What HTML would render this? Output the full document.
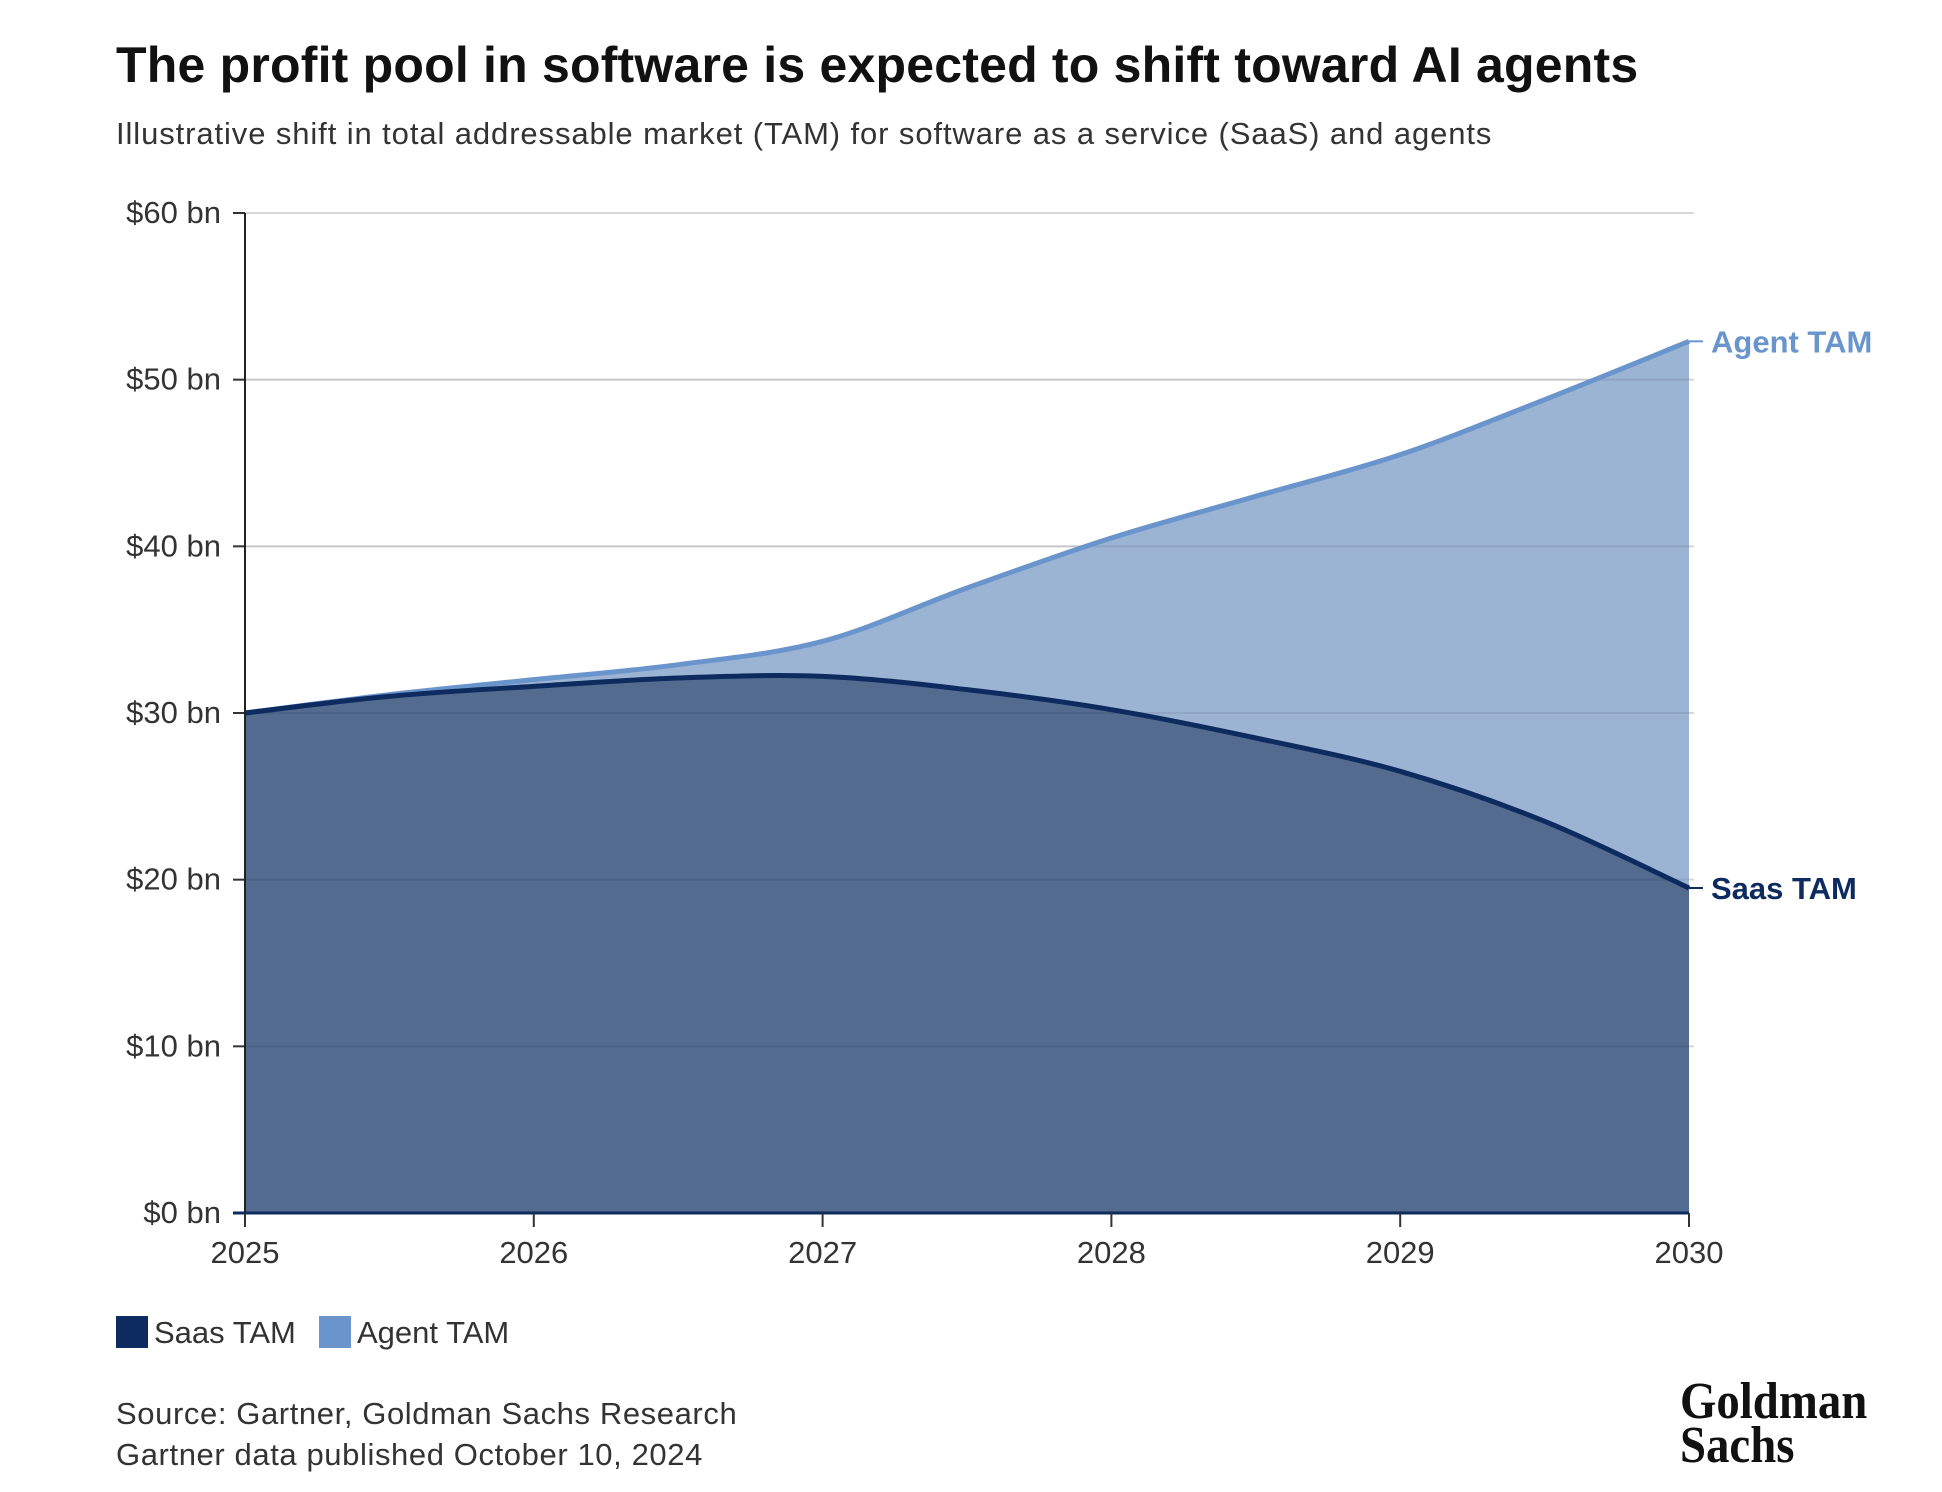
<!DOCTYPE html>
<html><head><meta charset="utf-8"><style>
body{margin:0;width:1942px;height:1492px;background:#fff;font-family:"Liberation Sans",sans-serif;overflow:hidden;position:relative}
.t{position:absolute;white-space:nowrap}
</style></head><body>
<div class="t" style="left:116px;top:36px;font-size:50px;font-weight:bold;color:#111;letter-spacing:0.2px">The profit pool in software is expected to shift toward AI agents</div>
<div class="t" style="left:116px;top:116px;font-size:31px;color:#333;letter-spacing:0.9px">Illustrative shift in total addressable market (TAM) for software as a service (SaaS) and agents</div>
<svg id="chart" width="1942" height="1492" style="position:absolute;left:0;top:0"></svg>
<div class="t" style="left:116px;top:1315px;font-size:31px;color:#333"><span style="display:inline-block;width:32px;height:32px;background:#0d2b5e;vertical-align:-5px;margin-right:6px"></span>Saas TAM</div>
<div class="t" style="left:319px;top:1315px;font-size:31px;color:#333"><span style="display:inline-block;width:32px;height:32px;background:#6a95cc;vertical-align:-5px;margin-right:6px"></span>Agent TAM</div>
<div class="t" style="left:116px;top:1393px;font-size:31px;color:#333;line-height:41px;letter-spacing:0.6px">Source: Gartner, Goldman Sachs Research<br>Gartner data published October 10, 2024</div>
<div class="t" style="left:1680px;top:1380px;font-family:'Liberation Serif',serif;font-weight:bold;font-size:52px;line-height:44px;color:#111;transform:scaleX(0.9);transform-origin:left">Goldman<br>Sachs</div>
<script>
const years=[2025,2025.5,2026,2026.5,2027,2027.5,2028,2028.5,2029,2029.5,2030];
const saas=[30,31,31.6,32.1,32.2,31.4,30.2,28.5,26.5,23.5,19.5];
const agent=[30,31.1,32.0,32.9,34.3,37.5,40.5,43.0,45.5,48.8,52.3];
const yTicks=[0,10,20,30,40,50,60];
const xTicks=[2025,2026,2027,2028,2029,2030];
const X0=245,X1=1689,Y0=1213,Y1=213;
const x=v=>X0+(v-2025)/5*(X1-X0);
const y=v=>Y0-v/60*(Y0-Y1);
const svg=document.getElementById('chart');
const NS='http://www.w3.org/2000/svg';
function mk(t,a){const e=document.createElementNS(NS,t);for(const k in a)e.setAttribute(k,a[k]);svg.appendChild(e);return e;}
function curve(vals){const p=years.map((yr,i)=>[x(yr),y(vals[i])]);let d='M'+p[0][0]+','+p[0][1];
for(let i=0;i<p.length-1;i++){const a=p[Math.max(i-1,0)],b=p[i],c=p[i+1],e=p[Math.min(i+2,p.length-1)];
d+=' C'+(b[0]+(c[0]-a[0])/6)+','+(b[1]+(c[1]-a[1])/6)+' '+(c[0]-(e[0]-b[0])/6)+','+(c[1]-(e[1]-b[1])/6)+' '+c[0]+','+c[1];}return d;}
yTicks.forEach(v=>{if(v>0){const g=mk('line',{x1:X0,x2:X1+5,y1:y(v),y2:y(v),stroke:'#d8d8d8','stroke-width':2});}
const tk=mk('line',{x1:X0-12,x2:X0,y1:y(v),y2:y(v),stroke:'#333','stroke-width':2});
const t=mk('text',{x:X0-24,y:y(v)+10,'text-anchor':'end','font-size':31,fill:'#333','font-family':'Liberation Sans'});t.textContent='$'+v+' bn';});
const ca=curve(agent),cs=curve(saas);
const aa=mk('path',{d:ca+' L'+x(2030)+','+Y0+' L'+X0+','+Y0+'Z',fill:'#9cb4d4'});
const sa=mk('path',{d:cs+' L'+x(2030)+','+Y0+' L'+X0+','+Y0+'Z',fill:'#536b8f'});
yTicks.forEach(v=>{if(v>0&&v<=50){const g=mk('line',{x1:X0,x2:X1,y1:y(v),y2:y(v),stroke:'rgba(0,0,0,0.08)','stroke-width':2});}});
const al=mk('path',{d:ca,fill:'none',stroke:'#6a95cc','stroke-width':5});
const sl=mk('path',{d:cs,fill:'none',stroke:'#0d2b5e','stroke-width':5});
const ya=mk('line',{x1:X0,x2:X0,y1:Y1,y2:Y0+14,stroke:'#222','stroke-width':2});
const xa=mk('line',{x1:X0-12,x2:X1,y1:Y0,y2:Y0,stroke:'#0d2b5e','stroke-width':3});
xTicks.forEach(v=>{const tk=mk('line',{x1:x(v),x2:x(v),y1:Y0,y2:Y0+14,stroke:'#333','stroke-width':2});
const t=mk('text',{x:x(v),y:Y0+50,'text-anchor':'middle','font-size':31,fill:'#333','font-family':'Liberation Sans'});t.textContent=v;});
const lbl=[['Agent TAM',agent[agent.length-1],'#6a95cc','agent-end-label'],['Saas TAM',saas[saas.length-1],'#0d2b5e','saas-end-label']];
lbl.forEach(l=>{const t=mk('text',{x:X1+22,y:y(l[1])+11,'font-size':31,'font-weight':'bold',fill:l[2],'font-family':'Liberation Sans'});t.textContent=l[0];
const c=mk('line',{x1:X1,x2:X1+14,y1:y(l[1]),y2:y(l[1]),stroke:l[2],'stroke-width':2});});
</script>
</body></html>
